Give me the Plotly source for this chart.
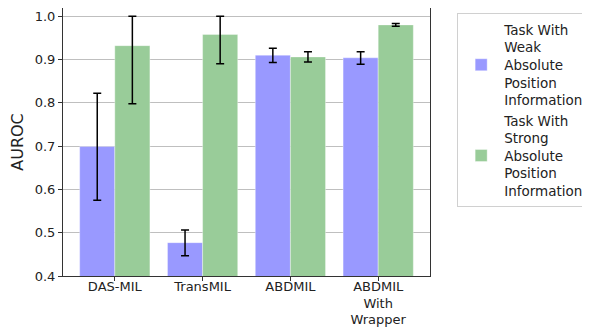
import plotly.graph_objects as go

categories = ["DAS-MIL", "TransMIL", "ABDMIL", "ABDMIL<br>With<br>Wrapper"]
weak_values = [0.699, 0.477, 0.910, 0.904]
weak_err_plus = [0.123, 0.029, 0.016, 0.014]
weak_err_minus = [0.124, 0.030, 0.017, 0.015]
strong_values = [0.932, 0.958, 0.906, 0.980]
strong_err_plus = [0.068, 0.042, 0.012, 0.003]
strong_err_minus = [0.134, 0.068, 0.012, 0.003]
series_names = ["Task With<br>Weak<br>Absolute<br>Position<br>Information",
                "Task With<br>Strong<br>Absolute<br>Position<br>Information"]
y_ticks = [0.4, 0.5, 0.6, 0.7, 0.8, 0.9, 1.0]

x_idx = list(range(len(categories)))
font = "DejaVu Sans"

fig = go.Figure()
fig.add_trace(go.Bar(
    x=x_idx, y=weak_values, name=series_names[0],
    marker=dict(color="rgb(153,153,255)", line=dict(color="rgba(255,255,255,0.6)", width=0.6)),
    error_y=dict(type="data", symmetric=False, array=weak_err_plus, arrayminus=weak_err_minus,
                 color="black", thickness=1.5, width=4),
))
fig.add_trace(go.Bar(
    x=x_idx, y=strong_values, name=series_names[1],
    marker=dict(color="rgb(153,204,153)", line=dict(color="rgba(255,255,255,0.6)", width=0.6)),
    error_y=dict(type="data", symmetric=False, array=strong_err_plus, arrayminus=strong_err_minus,
                 color="black", thickness=1.5, width=4),
))

fig.update_layout(
    width=582, height=319,
    margin=dict(l=55, r=160, t=0, b=51, autoexpand=False),
    barmode="group", bargap=0.2, bargroupgap=0,
    plot_bgcolor="white", paper_bgcolor="white",
    font=dict(family=font, size=13, color="#222"),
    legend=dict(x=1.074, y=0.98, xanchor="left", yanchor="top",
                bordercolor="#d0d0d0", borderwidth=1, font=dict(size=13.5, family=font),
                tracegroupgap=4, traceorder="normal", itemwidth=36),
    showlegend=True,
)
fig.update_xaxes(
    range=[-0.59, 3.59], tickvals=x_idx, ticktext=categories,
    showline=True, linecolor="#333", linewidth=1, mirror=True,
    ticks="outside", ticklen=4, tickcolor="#333", showgrid=False,
    tickfont=dict(size=13, family=font), automargin=False, ticklabelstandoff=-6,
)
fig.update_yaxes(
    range=[0.4, 1.019], tickvals=y_ticks, ticktext=[f"{v:.1f}" for v in y_ticks],
    showline=True, linecolor="#333", linewidth=1, mirror=True,
    ticks="outside", ticklen=4, tickcolor="#333",
    showgrid=True, gridcolor="#bfbfbf", gridwidth=1,
    title=dict(text="AUROC", font=dict(size=16, family=font), standoff=11),
    tickfont=dict(size=13, family=font), zeroline=False, automargin=False,
)

fig.write_html("out.html")
